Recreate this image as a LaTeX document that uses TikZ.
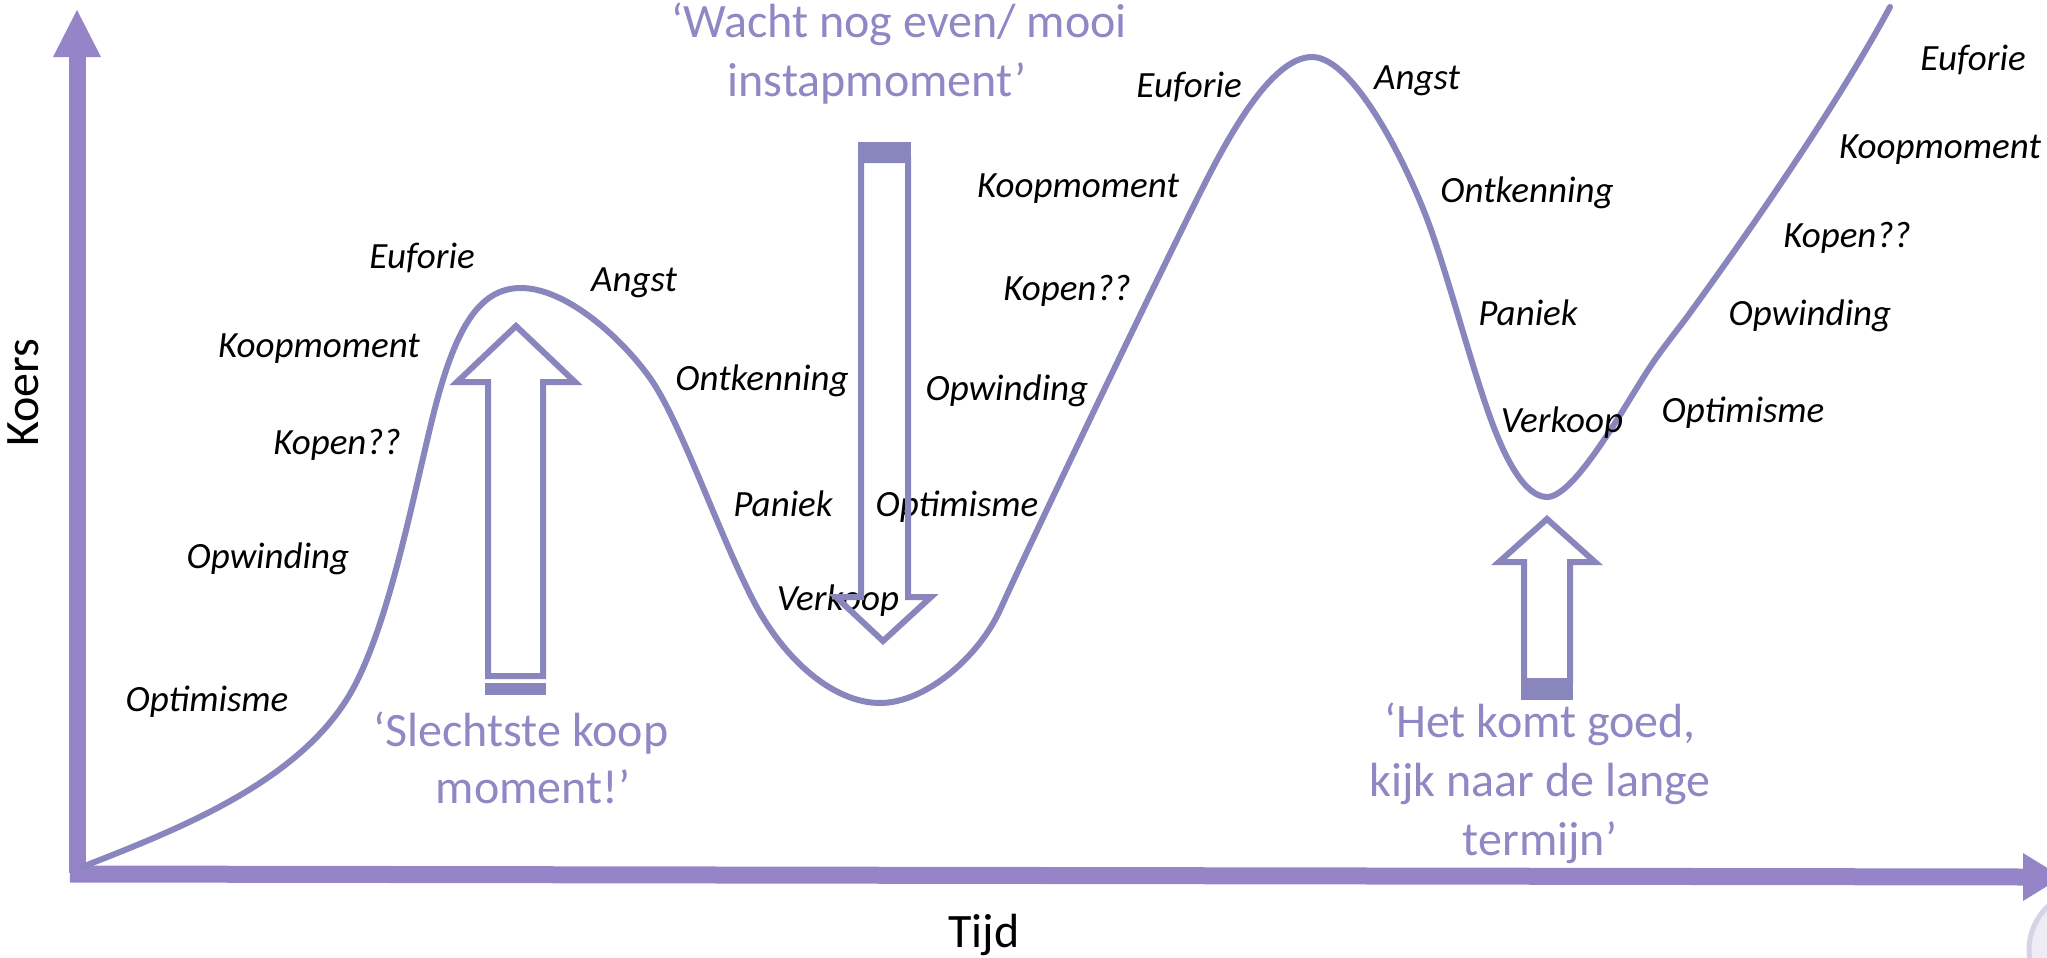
\documentclass[tikz,border=0pt]{standalone}
\usepackage{fontspec}
\setmainfont{Carlito}
\definecolor{curvecol}{HTML}{8985BD}
\definecolor{axiscol}{HTML}{9684C8}
\definecolor{quotecol}{HTML}{8E88C4}
\definecolor{logoring}{HTML}{D6D3E6}
\definecolor{logofill}{HTML}{EEEDF5}
\tikzset{
  lbl/.style={font=\fontsize{18.5}{22}\selectfont\itshape, anchor=base, inner sep=0pt},
  quoteline/.style={font=\fontsize{24}{29}\selectfont, text=quotecol, anchor=base, inner sep=0pt},
  axislabel/.style={font=\fontsize{24}{29}\selectfont, inner sep=0pt},
  pricecurve/.style={draw=curvecol, line width=3pt, line join=round, line cap=round},
  hollowarrow/.style={draw=curvecol, line width=3pt, line join=miter},
  axisline/.style={draw=axiscol, line width=8.5pt},
}
\begin{document}
\begin{tikzpicture}[x=0.5pt,y=-0.5pt]
\useasboundingbox (0,0) rectangle (2047,958);

% logo fragment in the corner
\begin{scope}
  \clip (0,0) rectangle (2047,958);
  \filldraw[fill=logofill, draw=logoring, line width=2.5pt] (2089,950) circle (60);
\end{scope}

% axes
\coordinate (O) at (77,874);
\coordinate (Ytop) at (77,57);
\coordinate (Xend) at (2023,877);
\draw[axisline] (77,873) -- (Ytop);
\fill[axiscol] (53,57) -- (77,10) -- (101,57) -- cycle;
\draw[axisline] (70,874) -- (Xend);
\fill[axiscol] (2023,853) -- (2062,877) -- (2023,901) -- cycle;

\node[axislabel, rotate=90] (koers) at (23,393) {Koers};
\node[axislabel, anchor=base] (tijd) at (984,947) {Tijd};

% price curve: two full cycles and a new rise
\draw[pricecurve] (82,867)
  .. controls (173,831) and (305,782) .. (355,685)
  .. controls (390,617) and (412,502) .. (432,420)
  .. controls (454,330) and (478,288) .. (521,288)
  .. controls (565,288) and (620,336) .. (650,378)
  .. controls (680,420) and (718,532) .. (753,600)
  .. controls (785,662) and (835,703) .. (880,703)
  .. controls (925,703) and (978,658) .. (1000,610)
  .. controls (1040,522) and (1155,283) .. (1200,193)
  .. controls (1225,143) and (1270,57) .. (1312,57)
  .. controls (1355,57) and (1410,171) .. (1430,227)
  .. controls (1450,283) and (1470,361) .. (1490,417)
  .. controls (1505,459) and (1525,497) .. (1547,497)
  .. controls (1575,497) and (1625,405) .. (1650,367)
  .. controls (1662,349) and (1675,333) .. (1687,317)
  .. controls (1757,221) and (1840,100) .. (1890,7);

% phase labels, first cycle
\node[lbl] (eu1) at (422,268) {Euforie};
\node[lbl] (an1) at (634,291) {Angst};
\node[lbl] (km1) at (319,357) {Koopmoment};
\node[lbl] (kp1) at (337,454) {Kopen??};
\node[lbl] (ow1) at (268,568) {Opwinding};
\node[lbl] (op1) at (207,711) {Optimisme};
\node[lbl] (on1) at (762,390) {Ontkenning};
\node[lbl] (pa1) at (783,516) {Paniek};
\node[lbl] (vk1) at (838,610) {Verkoop};

% second cycle
\node[lbl] (op2) at (957,516) {Optimisme};
\node[lbl] (ow2) at (1007,400) {Opwinding};
\node[lbl] (kp2) at (1067,300) {Kopen??};
\node[lbl] (km2) at (1078,197) {Koopmoment};
\node[lbl] (eu2) at (1189,97) {Euforie};
\node[lbl] (an2) at (1417,90) {Angst};
\node[lbl] (on2) at (1527,202) {Ontkenning};
\node[lbl] (pa2) at (1528,325) {Paniek};
\node[lbl] (vk2) at (1562,432) {Verkoop};

% third cycle
\node[lbl] (op3) at (1743,422) {Optimisme};
\node[lbl] (ow3) at (1810,325) {Opwinding};
\node[lbl] (kp3) at (1847,247) {Kopen??};
\node[lbl] (km3) at (1940,158) {Koopmoment};
\node[lbl] (eu3) at (1973,70) {Euforie};

% hollow arrows
\draw[hollowarrow] (488,676) -- (488,382) -- (457,382) -- (516,326) -- (575,382)
  -- (543,382) -- (543,676) -- cycle;
\fill[curvecol] (485,683) rectangle (546,695);

\draw[hollowarrow] (861,160) -- (861,597) -- (836,597) -- (883,641) -- (931,597)
  -- (908,597) -- (908,160) -- cycle;
\fill[curvecol] (858,142) rectangle (911,163);

\draw[hollowarrow] (1524,681) -- (1524,562) -- (1499,562) -- (1547,519) -- (1595,562)
  -- (1570,562) -- (1570,681) -- cycle;
\fill[curvecol] (1521,682) rectangle (1573,700);

% quotes
\node[quoteline] (qa1) at (521,746) {‘Slechtste koop};
\node[quoteline] (qa2) at (533,803) {moment!’};
\node[quoteline] (qb1) at (899,38) {‘Wacht nog even/ mooi};
\node[quoteline] (qb2) at (877,96) {instapmoment’};
\node[quoteline] (qc1) at (1540,737) {‘Het komt goed,};
\node[quoteline] (qc2) at (1540,796) {kijk naar de lange};
\node[quoteline] (qc3) at (1540,855) {termijn’};
\end{tikzpicture}
\end{document}
